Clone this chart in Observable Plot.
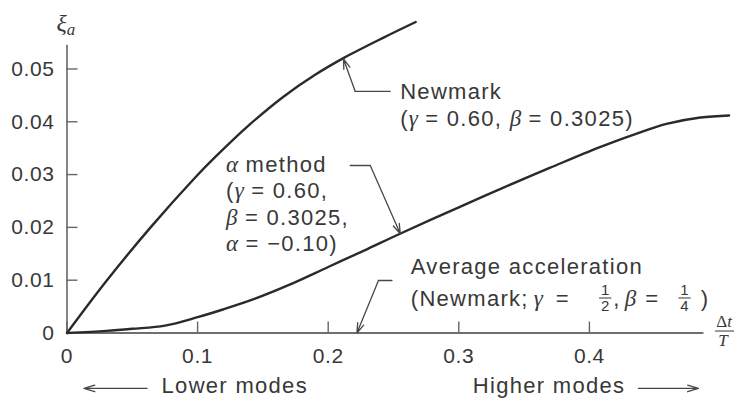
<!DOCTYPE html>
<html>
<head>
<meta charset="utf-8">
<script src="https://cdn.jsdelivr.net/npm/d3@7"></script>
<script src="https://cdn.jsdelivr.net/npm/@observablehq/plot@0.6"></script>
<style>
  html, body { margin: 0; padding: 0; background: #fff; }
  #chart { width: 734px; height: 399px; overflow: hidden; }
  g[aria-label$="tick label"] text { letter-spacing: 0.6px; }
</style>
</head>
<body>
<div id="chart"></div>
<script>
// Algorithmic damping ratio ξa against Δt/T for three time-stepping schemes.

// Newmark (γ = 0.60, β = 0.3025)
const newmarkX = [0, 0.030, 0.064, 0.098, 0.113, 0.140, 0.166, 0.190, 0.212, 0.242, 0.267];
const newmarkY = [0, 0.0098, 0.0200, 0.0294, 0.0332, 0.0395, 0.0448, 0.0489, 0.0521, 0.0559, 0.0589];

// α method (γ = 0.60, β = 0.3025, α = −0.10)
const alphaX = [0, 0.030, 0.050, 0.075, 0.100, 0.120, 0.144, 0.170, 0.200, 0.230, 0.255, 0.300, 0.332, 0.370, 0.408, 0.440, 0.459, 0.485, 0.507];
const alphaY = [0, 0.0004, 0.0008, 0.0014, 0.0030, 0.0045, 0.0065, 0.0091, 0.0125, 0.0159, 0.0188, 0.0238, 0.0273, 0.0313, 0.0352, 0.0381, 0.0396, 0.0408, 0.0412];

// Average acceleration: no algorithmic damping
const avgAccX = [0, 0.487];
const avgAccY = [0, 0];

const xTicks = [0, 0.1, 0.2, 0.3, 0.4];
const xTickLabels = ["0", "0.1", "0.2", "0.3", "0.4"];
const yTicks = [0, 0.01, 0.02, 0.03, 0.04, 0.05];
const yTickLabels = ["0", "0.01", "0.02", "0.03", "0.04", "0.05"];

// ---- styling ----
const INK = "#383838";
const CURVE = "#2a2a2a";
const AXIS = "#666";
const SANS = "'Liberation Sans', Arial, sans-serif";
const SERIF = "'Liberation Serif', 'DejaVu Serif', serif";
const LS = 1.3; // letter spacing of annotation text

const measureCtx = document.createElement("canvas").getContext("2d");
function runWidth(text, family, size, italic, ls) {
  measureCtx.font = `${italic ? "italic " : ""}${size}px ${family}`;
  return measureCtx.measureText(text).width + ls * [...text].length;
}

// Rich annotation lines: plain strings are sans text, {m} is italic math,
// {frac: [num, den]} is a small stacked fraction, {gap} is extra space in px.
function richLines(lines) {
  return (index, {x, y}) => {
    const g = d3.create("svg:g").attr("fill", INK).attr("text-anchor", "start").style("white-space", "pre");
    for (const {at, runs, size = 22} of lines) {
      let cx = x(at[0]);
      const by = y(at[1]);
      for (const r of runs) {
        if (r.gap !== undefined) { cx += r.gap; continue; }
        if (r.frac) {
          const fs = 15;
          const w = Math.max(...r.frac.map(t => runWidth(t, SANS, fs, false, 0))) + 4;
          g.append("text").attr("x", cx + w / 2).attr("y", by - 10.5)
            .attr("text-anchor", "middle").attr("font-family", SANS).attr("font-size", fs).text(r.frac[0]);
          g.append("line").attr("x1", cx).attr("x2", cx + w).attr("y1", by - 8).attr("y2", by - 8)
            .attr("stroke", INK).attr("stroke-width", 1);
          g.append("text").attr("x", cx + w / 2).attr("y", by + 5.5)
            .attr("text-anchor", "middle").attr("font-family", SANS).attr("font-size", fs).text(r.frac[1]);
          cx += w;
          continue;
        }
        const math = typeof r !== "string";
        const t = math ? r.m : r;
        const fam = math ? SERIF : SANS;
        const fs = (math && r.size) || size + (math ? 1 : 0);
        const ls = math ? 0 : LS;
        g.append("text").attr("x", cx).attr("y", by + ((math && r.dy) || 0))
          .attr("font-family", fam).attr("font-size", fs)
          .attr("font-style", math ? "italic" : null)
          .attr("letter-spacing", ls).text(t);
        cx += runWidth(t, fam, fs, math, ls);
      }
    }
    return g.node();
  };
}

// The Δt/T label at the end of the horizontal axis
function deltaTOverT(index, {x, y}) {
  const g = d3.create("svg:g").attr("fill", INK).attr("font-family", SERIF).attr("font-size", 17);
  const cx = x(0.5035);
  const num = g.append("text").attr("x", cx).attr("y", y(0.00104)).attr("text-anchor", "middle");
  num.append("tspan").text("Δ");
  num.append("tspan").attr("font-style", "italic").text("t");
  g.append("line").attr("x1", x(0.4966)).attr("x2", x(0.512)).attr("y1", y(0.00028)).attr("y2", y(0.00028))
    .attr("stroke", INK).attr("stroke-width", 1);
  g.append("text").attr("x", cx - 1).attr("y", y(-0.00256)).attr("text-anchor", "middle")
    .attr("font-style", "italic").text("T");
  return g.node();
}

const annotationLines = [
  {at: [-0.0077, 0.0571], runs: [{m: "ξ", size: 24}, {m: "a", size: 17, dy: 4}]},
  {at: [0.2555, 0.04422], runs: ["Newmark"]},
  {at: [0.2555, 0.03911], runs: ["(", {m: "γ"}, " = 0.60, ", {m: "β"}, " = 0.3025)"]},
  {at: [0.1222, 0.03040], runs: [{m: "α"}, " method"]},
  {at: [0.1222, 0.02538], runs: ["(", {m: "γ"}, " = 0.60,"]},
  {at: [0.1222, 0.02036], runs: [{m: "β"}, " = 0.3025,"]},
  {at: [0.1222, 0.01534], runs: [{m: "α"}, " = −0.10)"]},
  {at: [0.2636, 0.01102], runs: ["Average acceleration"]},
  {at: [0.2636, 0.00502], runs: [
    "(Newmark;", {gap: 5}, {m: "γ"}, {gap: 13}, "=", {gap: 29}, {frac: ["1", "2"]}, {gap: 2},
    ",", {gap: 4}, {m: "β"}, {gap: 9}, "=", {gap: 19}, {frac: ["1", "4"]}, {gap: 10}, ")"
  ]},
  {at: [0.0728, -0.01146], runs: ["Lower modes"]},
  {at: [0.3111, -0.01146], runs: ["Higher modes"]}
];

// Leader lines: a bent path ending in an arrow that points at its curve
const leaders = [
  {path: [[0.2475, 0.04574], [0.2207, 0.04574]], tip: [0.2117, 0.0519]},
  {path: [[0.2169, 0.03172], [0.2322, 0.03172]], tip: [0.2552, 0.0188]},
  {path: [[0.2488, 0.00994], [0.2385, 0.00994]], tip: [0.2220, 0.0]}
];
const modeArrows = [
  {from: [0.0613, -0.0105], to: [0.0130, -0.0105]},
  {from: [0.4375, -0.0105], to: [0.4835, -0.0105]}
];

const leaderStyle = {stroke: "#474747", strokeWidth: 1.3};

const chart = Plot.plot({
  width: 734,
  height: 399,
  marginLeft: 66.5,
  marginRight: 1.4,
  marginTop: 5.1,
  marginBottom: 66.5,
  x: {domain: [0, 0.51], range: [66.5, 66.5 + 0.51 * 1306]},
  y: {domain: [0, 0.062]},
  style: {background: "#fff", color: INK, fontFamily: SANS, fontSize: "21px", overflow: "visible"},
  marks: [
    // axes
    Plot.ruleX([0], {y1: 0, y2: 0.0545, stroke: AXIS, strokeWidth: 1.6}),
    Plot.ruleY([0], {x1: 0, x2: 0.487, stroke: AXIS, strokeWidth: 1.6}),
    Plot.axisX(xTicks, {
      tickSize: 11, dy: -11, tickPadding: 14.6, stroke: AXIS, strokeWidth: 1.4,
      tickFormat: d => xTickLabels[xTicks.indexOf(d)], label: null
    }),
    Plot.axisY(yTicks, {
      tickSize: 11, dx: 11, tickPadding: 12.5, stroke: AXIS, strokeWidth: 1.4,
      tickFormat: d => yTickLabels[yTicks.indexOf(d)], label: null
    }),
    // curves
    Plot.line(avgAccX, {x: avgAccX, y: avgAccY, stroke: AXIS, strokeWidth: 1.6}),
    Plot.line(alphaX, {x: alphaX, y: alphaY, stroke: CURVE, strokeWidth: 2.4, curve: "catmull-rom"}),
    Plot.line(newmarkX, {x: newmarkX, y: newmarkY, stroke: CURVE, strokeWidth: 2.4, curve: "catmull-rom"}),
    // leaders
    ...leaders.map(l => Plot.line(l.path, {x: d => d[0], y: d => d[1], ...leaderStyle})),
    Plot.arrow(leaders, {
      x1: d => d.path[d.path.length - 1][0], y1: d => d.path[d.path.length - 1][1],
      x2: d => d.tip[0], y2: d => d.tip[1],
      headLength: 12, headAngle: 36, ...leaderStyle
    }),
    Plot.arrow(modeArrows, {
      x1: d => d.from[0], y1: d => d.from[1], x2: d => d.to[0], y2: d => d.to[1],
      headLength: 13, headAngle: 34, ...leaderStyle
    }),
    // text
    richLines(annotationLines),
    deltaTOverT
  ]
});

document.getElementById("chart").append(chart);
</script>
</body>
</html>
